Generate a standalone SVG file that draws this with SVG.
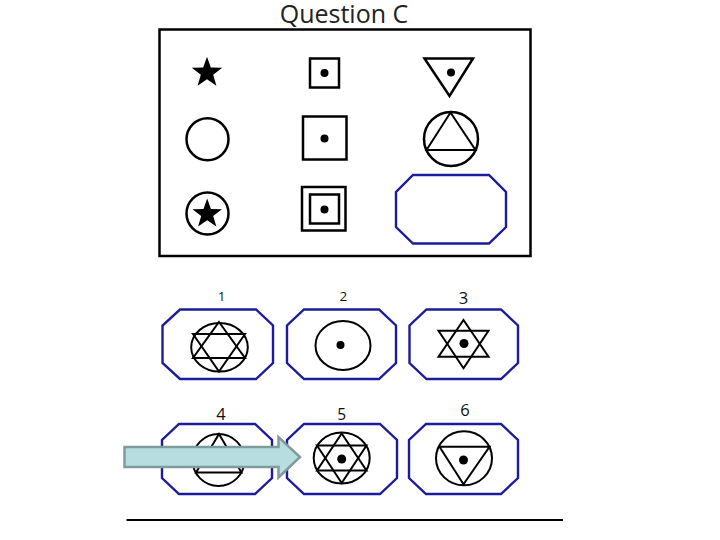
<svg xmlns="http://www.w3.org/2000/svg" width="720" height="540" viewBox="0 0 720 540">
<style>
.sym{fill:none;stroke:#000;stroke-width:2.5;stroke-linejoin:miter}
.thin{fill:none;stroke:#000;stroke-width:2}
.oct{fill:#fff;stroke:#1c1c9a;stroke-width:2.4}
.dot{fill:#000}
.lbl{font-family:"Open Sans","Liberation Sans",sans-serif;fill:#111;text-anchor:middle}
.title{font-family:"Open Sans","Liberation Sans",sans-serif;font-size:25px;fill:#222;text-anchor:middle}
</style>
<defs>
<polygon id="star" points="0,-16 3.82,-5.26 15.22,-4.94 6.18,2.01 9.4,12.94 0,6.5 -9.4,12.94 -6.18,2.01 -15.22,-4.94 -3.82,-5.26" fill="#000"/>
</defs>
<rect width="720" height="540" fill="#fff"/>
<text class="title" x="344" y="23">Question C</text>
<g id="matrix">
<rect x="159.5" y="29.5" width="371" height="226.5" fill="none" stroke="#000" stroke-width="2.5"/>
</g>
<g id="m11"><use href="#star" x="207" y="72.8"/></g>
<g id="m12"><rect class="sym" x="310" y="58.5" width="29" height="29"/><circle class="dot" cx="324.5" cy="73" r="4"/></g>
<g id="m13"><polygon class="sym" points="424.5,58.5 473,58.5 449.5,96"/><circle class="dot" cx="451" cy="72.5" r="4"/></g>
<g id="m21"><circle class="sym" cx="207.5" cy="139.3" r="21"/></g>
<g id="m22"><rect class="sym" x="303" y="116.5" width="43.5" height="43"/><circle class="dot" cx="324.5" cy="138.5" r="4"/></g>
<g id="m23"><circle class="sym" cx="451" cy="139" r="27"/><polygon class="thin" points="450.5,112.5 475.5,150 426.5,150"/></g>
<g id="m31"><circle class="sym" cx="207.5" cy="213.5" r="21"/><use href="#star" x="207.2" y="214" transform="translate(207.2 214) scale(0.97) translate(-207.2 -214)"/></g>
<g id="m32"><rect class="sym" x="302" y="187" width="43.5" height="43.5"/><rect class="sym" x="310" y="194.5" width="29" height="29"/><circle class="dot" cx="324.5" cy="209.5" r="4"/></g>
<g id="m33"><polygon class="oct" points="413,175 489,175 506,192 506,227 489,243.5 413,243.5 396,227 396,192"/></g>

<g id="opt1">
<polygon class="oct" points="180,309.5 256,309.5 273,325.5 273,363 256,379 180,379 162.5,363 162.5,325.5"/>
<text class="lbl" x="221.5" y="300.5" font-size="13.5">1</text>
<ellipse class="thin" cx="219.5" cy="347.3" rx="28.3" ry="24.3"/>
<polygon class="thin" points="219,322 245,358 193,358"/>
<polygon class="thin" points="219,371.5 245,334 193,334"/>
</g>
<g id="opt2">
<polygon class="oct" points="304,309.5 379,309.5 396,325.5 396,363 379,379 304,379 287,363 287,325.5"/>
<text class="lbl" x="343.3" y="300.5" font-size="13.5">2</text>
<ellipse class="thin" cx="343" cy="345.5" rx="27.5" ry="24.5"/>
<circle class="dot" cx="340.5" cy="345" r="4"/>
</g>
<g id="opt3">
<polygon class="oct" points="426.5,309.5 501,309.5 518,325.5 518,363 501,379 426.5,379 409.5,363 409.5,325.5"/>
<text class="lbl" x="463.5" y="303.5" font-size="16.5">3</text>
<polygon class="thin" points="463.5,320 488.5,356.7 438.5,356.7"/>
<polygon class="thin" points="463.5,368.3 488.5,330.7 438.5,330.7"/>
<circle class="dot" cx="464" cy="343.5" r="4.5"/>
</g>
<g id="opt4">
<polygon class="oct" points="179,424 255,424 272,440 272,478 255,494 179,494 162,478 162,440"/>
<text class="lbl" x="221" y="420" font-size="16.5">4</text>
<circle class="thin" cx="218.5" cy="460" r="26"/>
<polygon class="thin" points="219,434 241.5,472.5 196,472.5"/>
</g>
<g id="opt5">
<polygon class="oct" points="304,424 380,424 397,440 397,478 380,494 304,494 287,478 287,440"/>
<text class="lbl" x="341.7" y="420" font-size="15.5">5</text>
<ellipse class="thin" cx="341.7" cy="458" rx="28" ry="25.5"/>
<polygon class="thin" points="341.7,433.5 366.5,470.5 317,470.5"/>
<polygon class="thin" points="341.7,483 366.5,445.5 317,445.5"/>
<circle class="dot" cx="341.7" cy="459" r="4.5"/>
</g>
<g id="opt6">
<polygon class="oct" points="426,424 501,424 518,440 518,478 501,494 426,494 409,478 409,440"/>
<text class="lbl" x="465" y="415.5" font-size="16.5">6</text>
<ellipse class="thin" cx="464" cy="458.3" rx="28" ry="27"/>
<polygon class="thin" points="439.5,446.7 489.5,446.7 463.5,484.3"/>
<circle class="dot" cx="463.5" cy="460" r="4.5"/>
</g>

<g id="connectors">
<polygon points="124.5,447 278.5,447 278.5,437 300,457 278.5,477.5 278.5,467 124.5,467" fill="#b8dde0" stroke="#7f9c9c" stroke-width="2.5" stroke-linejoin="miter"/>
<line x1="126.5" y1="520" x2="563" y2="520" stroke="#000" stroke-width="2"/>
</g>
</svg>
